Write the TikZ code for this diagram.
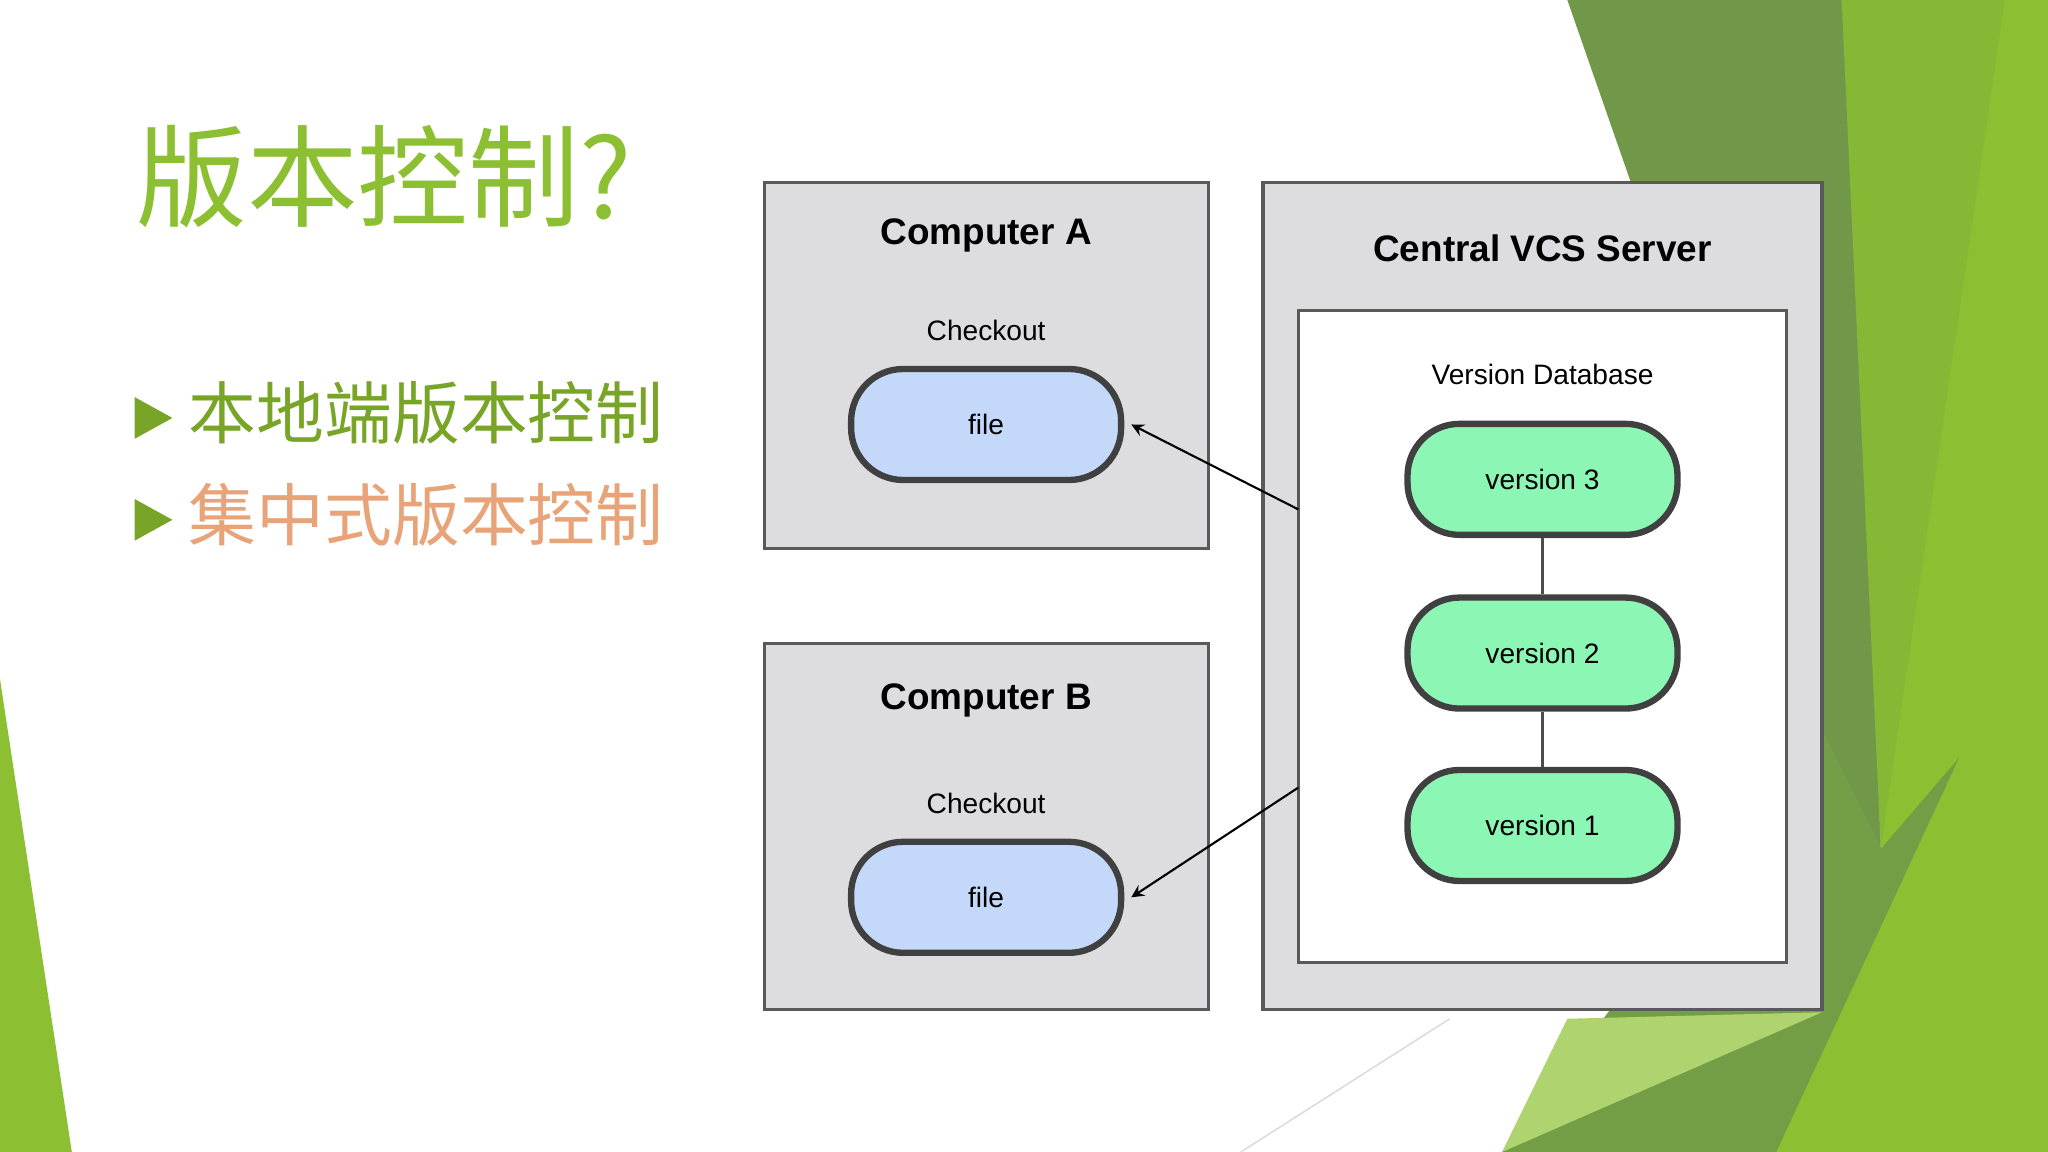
\documentclass[tikz,border=0pt]{standalone}
\usepackage{fontspec}
\setmainfont{Liberation Sans}
\newfontfamily\cjk{Noto Sans CJK SC}
\usetikzlibrary{arrows, positioning}
\definecolor{leaf}{RGB}{140,192,50}
\definecolor{moss}{RGB}{112,152,72}
\definecolor{bullet}{RGB}{120,165,40}
\definecolor{peach}{RGB}{232,164,120}
\definecolor{panel}{RGB}{221,221,223}
\definecolor{pale}{RGB}{196,216,250}
\definecolor{mint}{RGB}{140,246,180}
\tikzset{
    box/.style={rectangle, draw=black!65, line width=0.9pt, fill=panel},
    pill/.style={rectangle, rounded corners=0.52cm, draw=black!75, line width=1.8pt,
        minimum width=2.7cm, minimum height=1.11cm, font=\fontsize{8}{9}\selectfont},
    heading/.style={font=\fontsize{10.5}{12}\selectfont\bfseries},
    caption/.style={font=\fontsize{8}{9}\selectfont},
}
\begin{document}
\begin{tikzpicture}[x=0.013061cm, y=-0.013061cm, >=stealth]
    \useasboundingbox (0,0) rectangle (1568,882);
    \fill[white] (0,0) rectangle (1568,882);

    % backdrop
    \fill[leaf] (1410,0) -- (1568,0) -- (1568,882) -- (1150,882) -- (1395,560) -- (1440,650) -- cycle;
    \fill[moss] (1200,0) -- (1415,0) -- (1440,650) -- (1395,560) -- cycle;
    \fill[leaf!80!moss] (1410,0) -- (1535,0) -- (1440,650) -- cycle;
    \fill[moss!85!leaf] (1395,560) -- (1440,650) -- (1500,580) -- (1360,882) -- (1150,882) -- cycle;
    \fill[leaf!70!white] (1200,780) -- (1395,775) -- (1150,882) -- cycle;
    \fill[leaf] (0,520) -- (55,882) -- (0,882) -- cycle;
    \draw[black!15] (950,882) -- (1110,780);

    % slide text
    \node[anchor=west, text=leaf, font=\cjk\fontsize{31.5}{34}\selectfont] (title) at (95,135) {版本控制?};
    \fill[bullet] (103,304) -- (132,320) -- (103,336) -- cycle;
    \fill[bullet] (103,382) -- (132,398) -- (103,414) -- cycle;
    \node[anchor=west, text=bullet, font=\cjk\fontsize{19.3}{22}\selectfont] (local) at (135,316) {本地端版本控制};
    \node[anchor=west, text=peach, font=\cjk\fontsize{19.3}{22}\selectfont] (central) at (135,394) {集中式版本控制};

    % computers
    \node[box, minimum width=4.44cm, minimum height=3.66cm] (compA) at (755,280) {};
    \node[box, minimum width=4.44cm, minimum height=3.66cm] (compB) at (755,633) {};
    \node[heading] (titleA) at (755,180) {Computer A};
    \node[caption] (checkA) at (755,253) {Checkout};
    \node[pill, fill=pale] (fileA) at (755,325) {file};
    \node[heading] (titleB) at (755,536) {Computer B};
    \node[caption] (checkB) at (755,615) {Checkout};
    \node[pill, fill=pale] (fileB) at (755,687) {file};

    % server
    \node[box, minimum width=5.59cm, minimum height=8.27cm] (server) at (1181,456.5) {};
    \node[rectangle, draw=black!65, line width=0.9pt, fill=white, minimum width=4.88cm, minimum height=6.52cm] (db) at (1181,487.5) {};
    \node[heading] (titleS) at (1181,190) {Central VCS Server};
    \node[caption] (dbname) at (1181,287) {Version Database};
    \node[pill, fill=mint] (v3) at (1181,367) {version 3};
    \node[pill, fill=mint] (v2) at (1181,500) {version 2};
    \node[pill, fill=mint] (v1) at (1181,632) {version 1};
    \draw[black!70, line width=0.8pt] (v3) -- (v2) (v2) -- (v1);

    \coordinate (outA) at (994,390);
    \coordinate (outB) at (994,603);
    \draw[->, line width=0.6pt] (outA) -- ([xshift=2pt]fileA.east);
    \draw[->, line width=0.6pt] (outB) -- ([xshift=2pt]fileB.east);
\end{tikzpicture}
\end{document}
